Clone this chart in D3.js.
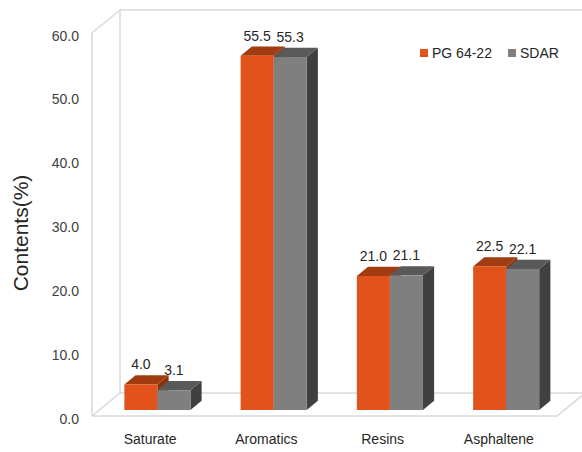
<!DOCTYPE html>
<html>
<head>
<meta charset="utf-8">
<script src="https://cdn.jsdelivr.net/npm/d3@7"></script>
<style>
  html, body { margin: 0; padding: 0; background: #fff; }
  svg { display: block; font-family: "Liberation Sans", Arial, sans-serif; }
</style>
</head>
<body>
<svg id="chart" width="582" height="452"></svg>
<script>
// Chart data
const categories = ["Saturate", "Aromatics", "Resins", "Asphaltene"];
const seriesNames = ["PG 64-22", "SDAR"];
const pgValues = [4.0, 55.5, 21.0, 22.5];
const sdarValues = [3.1, 55.3, 21.1, 22.1];
const yTicks = [0, 10, 20, 30, 40, 50, 60];
const yLabel = "Contents(%)";

const seriesValues = [pgValues, sdarValues];
const colors = [
  { front: "#e2531b", top: "#a13c10", side: "#8a3310" },
  { front: "#7f7f7f", top: "#595959", side: "#404040" }
];

const svg = d3.select("#chart");

// Front plane of the 3D box
const left = 92, right = 557, floorY = 416, topY = 33;
// Depth vector of the box (towards the back wall)
const DX = 28, DY = -23;
// Bars sit between these fractions of the depth
const t0 = 0.26, t1 = 0.66;

const x = d3.scaleBand().domain(categories).range([left, right]);
const xs = d3.scaleBand().domain(seriesNames).range([0, x.bandwidth()])
  .paddingInner(0).paddingOuter(0.76);
const y = d3.scaleLinear().domain([0, 60]).range([floorY, topY]);

const wallColor = "#d9d9d9";
const walls = svg.append("g").attr("fill", "none").attr("stroke", wallColor).attr("stroke-width", 1.5);
// floor
walls.append("path").attr("d", d3.line()([
  [left, floorY], [right, floorY], [right + DX, floorY + DY], [left + DX, floorY + DY], [left, floorY]
]));
// left side wall
walls.append("path").attr("d", d3.line()([
  [left, floorY], [left, topY], [left + DX, topY + DY], [left + DX, floorY + DY]
]));
// back wall top edge
walls.append("path").attr("d", d3.line()([
  [left + DX, topY + DY], [right + DX, topY + DY], [right + DX, floorY + DY]
]));

// Y axis labels
const yAxis = d3.axisLeft(y).tickValues(yTicks).tickFormat(d3.format(".1f"))
  .tickSize(0).tickPadding(13);
const gy = svg.append("g").attr("transform", `translate(${left},0)`).call(yAxis);
gy.select(".domain").remove();
gy.selectAll("text").attr("font-size", 14).attr("fill", "#404040").attr("dy", "0.5em")
  .attr("font-family", "'Liberation Sans', Arial, sans-serif");

// X axis labels
const xAxis = d3.axisBottom(x).tickSize(0).tickPadding(18);
const gx = svg.append("g").attr("transform", `translate(0,${floorY})`).call(xAxis);
gx.select(".domain").remove();
gx.selectAll("text").attr("font-size", 14).attr("fill", "#262626")
  .attr("font-family", "'Liberation Sans', Arial, sans-serif");

// Y axis title
svg.append("text")
  .attr("transform", "translate(28,233) rotate(-90)")
  .attr("text-anchor", "middle")
  .attr("font-size", 21)
  .attr("fill", "#262626")
  .text(yLabel);

// 3D bars
const ox0 = t0 * DX, oy0 = t0 * DY, ox1 = t1 * DX, oy1 = t1 * DY;
const line = d3.line();
const bars = svg.append("g");
categories.forEach((cat, ci) => {
  seriesNames.forEach((s, si) => {
    const v = seriesValues[si][ci];
    const x0 = x(cat) + xs(s), x1 = x0 + xs.bandwidth();
    const yt = y(v), yb = y(0);
    const c = colors[si];
    const g = bars.append("g");
    g.append("path").attr("fill", c.side).attr("d", line([
      [x1 + ox0, yt + oy0], [x1 + ox1, yt + oy1], [x1 + ox1, yb + oy1], [x1 + ox0, yb + oy0]
    ]) + "Z");
    g.append("path").attr("fill", c.top).attr("d", line([
      [x0 + ox0, yt + oy0], [x1 + ox0, yt + oy0], [x1 + ox1, yt + oy1], [x0 + ox1, yt + oy1]
    ]) + "Z");
    g.append("rect").attr("fill", c.front)
      .attr("x", x0 + ox0).attr("y", yt + oy0)
      .attr("width", x1 - x0).attr("height", yb - yt);
  });
});

// Value labels
categories.forEach((cat, ci) => {
  seriesNames.forEach((s, si) => {
    const v = seriesValues[si][ci];
    const x0 = x(cat) + xs(s);
    svg.append("text")
      .attr("x", x0 + xs.bandwidth() / 2 + ox0)
      .attr("y", y(v) + oy1 - 6)
      .attr("text-anchor", "middle")
      .attr("font-size", 14)
      .attr("fill", "#262626")
      .text(d3.format(".1f")(v));
  });
});

// Legend
const legend = svg.append("g");
const legendX = [420, 508];
seriesNames.forEach((s, si) => {
  legend.append("rect").attr("x", legendX[si]).attr("y", 49)
    .attr("width", 8).attr("height", 8).attr("fill", colors[si].front);
  legend.append("text").attr("x", legendX[si] + 12).attr("y", 58)
    .attr("font-size", 14).attr("fill", "#262626").text(s);
});
</script>
</body>
</html>
